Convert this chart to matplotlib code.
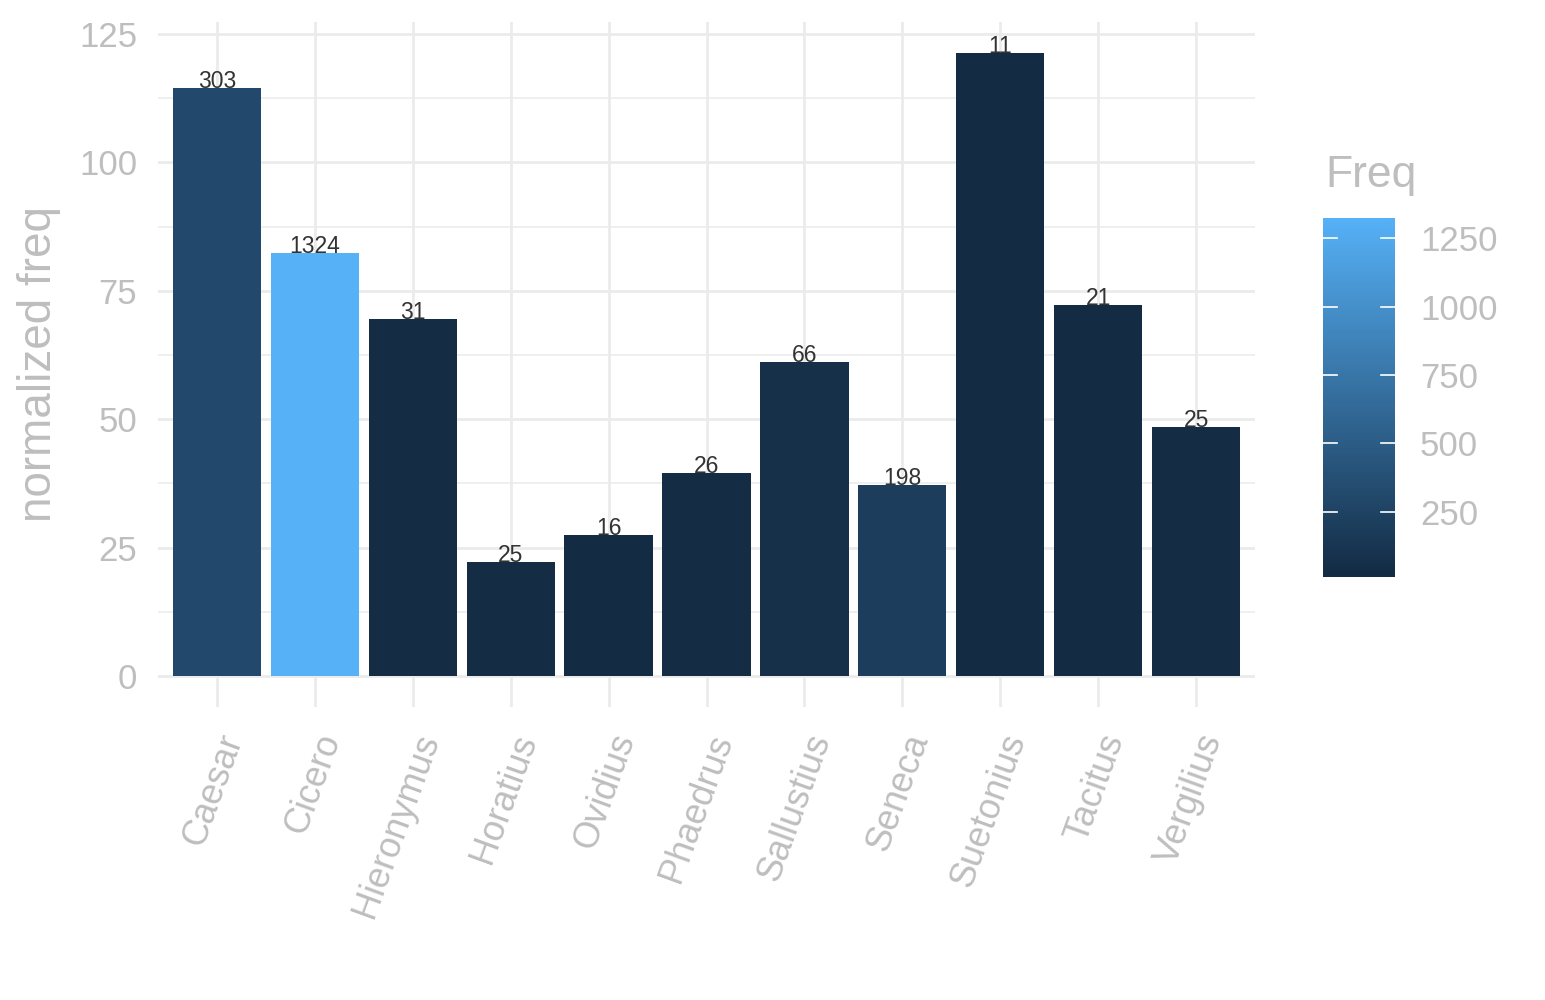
import numpy as np
import matplotlib.pyplot as plt
from matplotlib.colors import LinearSegmentedColormap, Normalize

plt.rcParams['font.family'] = ['Liberation Sans', 'DejaVu Sans']

# data
authors = ["Caesar", "Cicero", "Hieronymus", "Horatius", "Ovidius", "Phaedrus",
           "Sallustius", "Seneca", "Suetonius", "Tacitus", "Vergilius"]
freq = [303, 1324, 31, 25, 16, 26, 66, 198, 11, 21, 25]
norm_freq = [114.5, 82.3, 69.6, 22.2, 27.5, 39.6, 61.2, 37.1, 121.3, 72.2, 48.4]
y_ticks = [0, 25, 50, 75, 100, 125]
cbar_ticks = [250, 500, 750, 1000, 1250]

GREY_TXT = "#BEBEBE"
GRID = "#EBEBEB"

cmap = LinearSegmentedColormap.from_list("gg", ["#132B43", "#56B1F7"])
cnorm = Normalize(vmin=min(freq), vmax=max(freq))

W, H = 1545, 1000
fig = plt.figure(figsize=(W / 100, H / 100), dpi=100)

# panel in pixel coords
px_l, px_r, px_t, px_b = 158, 1255, 22, 707
ax = fig.add_axes([px_l / W, 1 - px_b / H, (px_r - px_l) / W, (px_b - px_t) / H])

x = np.arange(len(authors))
colors = [cmap(cnorm(f)) for f in freq]
ax.bar(x, norm_freq, width=0.9, color=colors, zorder=2)

for xi, v, f in zip(x, norm_freq, freq):
    ax.text(xi, v, str(f), ha="center", va="baseline", fontsize=16.5, color="#333333", zorder=3)

ymax = max(norm_freq)
ax.set_ylim(-0.05 * ymax, ymax * 1.05)
ax.set_xlim(-0.6, len(authors) - 1 + 0.6)

ax.set_yticks(y_ticks)
ax.set_yticks([12.5, 37.5, 62.5, 87.5, 112.5], minor=True)
ax.set_xticks(x)
ax.set_xticklabels(authors, rotation=70, ha="right", va="top", rotation_mode="anchor")

ax.grid(True, which="major", color=GRID, linewidth=2.0, zorder=0)
ax.grid(True, which="minor", axis="y", color=GRID, linewidth=1.1, zorder=0)
ax.set_axisbelow(True)
for s in ax.spines.values():
    s.set_visible(False)
ax.tick_params(axis="both", which="both", length=0, labelsize=25, labelcolor=GREY_TXT)
ax.tick_params(axis="y", pad=15)
ax.tick_params(axis="x", labelsize=26, pad=16)
ax.set_ylabel("normalized freq", fontsize=33, color=GREY_TXT, labelpad=13)

# colour bar
cb_l, cb_r, cb_t, cb_b = 1323, 1395, 218, 577
cax = fig.add_axes([cb_l / W, 1 - cb_b / H, (cb_r - cb_l) / W, (cb_b - cb_t) / H])
grad = np.linspace(min(freq), max(freq), 300).reshape(-1, 1)
cax.imshow(grad, aspect="auto", cmap=cmap, norm=cnorm, origin="lower",
           extent=[0, 1, min(freq), max(freq)])
cax.set_xlim(0, 1)
cax.set_ylim(min(freq), max(freq))
for t in cbar_ticks:
    cax.plot([0, 0.2], [t, t], color="white", lw=1.2)
    cax.plot([0.8, 1], [t, t], color="white", lw=1.2)
cax.set_xticks([])
cax.yaxis.tick_right()
cax.set_yticks(cbar_ticks)
cax.tick_params(axis="y", length=0, pad=18, labelsize=25, labelcolor=GREY_TXT)
for s in cax.spines.values():
    s.set_visible(False)

fig.text(1325 / W, 1 - 176 / H, "Freq", fontsize=32, color=GREY_TXT, ha="left", va="center")

fig.savefig("out.png", dpi=100, facecolor="white")
